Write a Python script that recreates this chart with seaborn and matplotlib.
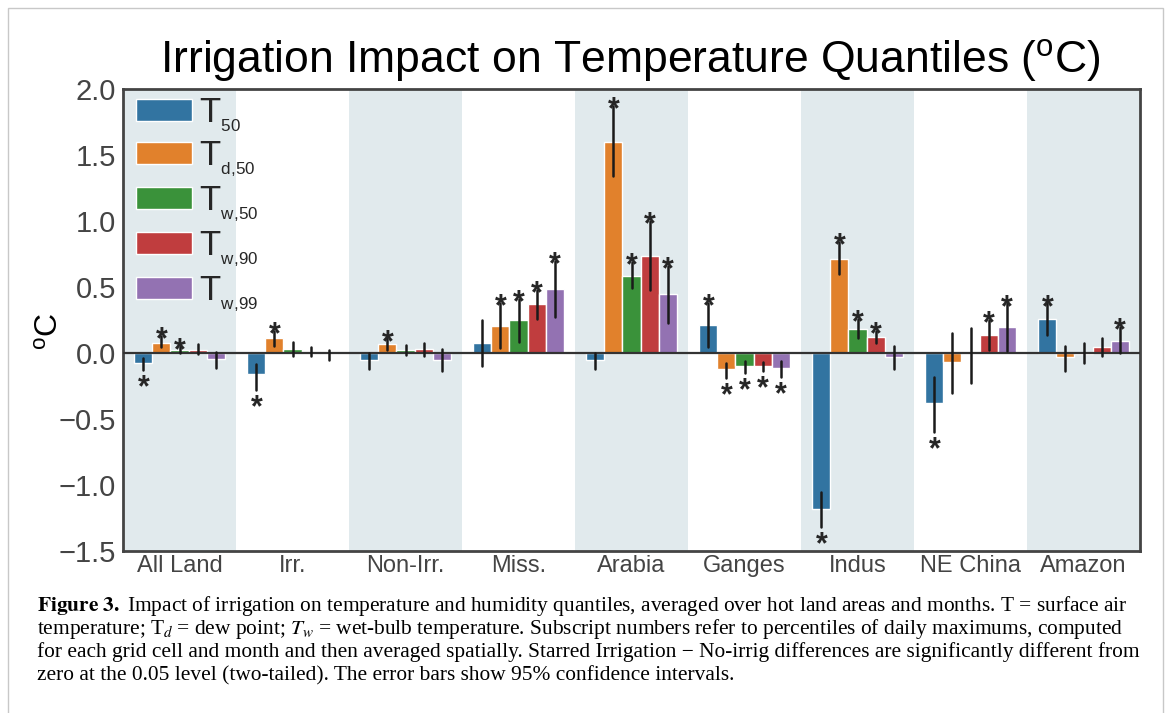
import pandas as pd
import matplotlib
matplotlib.use("Agg")
import matplotlib.pyplot as plt
from matplotlib.patches import Rectangle
import seaborn as sns

# Données
regions = ["All Land", "Irr.", "Non-Irr.", "Miss.", "Arabia", "Ganges", "Indus", "NE China", "Amazon"]
quantiles = ["T$_{_{50}}$", r"T$_{_{d,\!50}}$", r"T$_{_{w,\!50}}$", r"T$_{_{w,\!90}}$", r"T$_{_{w,\!99}}$"]

# Irrigation - No-irrig (°C), une liste par quantile
t50 = [-0.077, -0.160, -0.053, 0.073, -0.053, 0.212, -1.180, -0.376, 0.255]
td50 = [0.078, 0.115, 0.068, 0.207, 1.598, -0.119, 0.712, -0.070, -0.033]
tw50 = [0.022, 0.030, 0.020, 0.248, 0.586, -0.098, 0.182, -0.010, -0.005]
tw90 = [0.025, 0.012, 0.028, 0.369, 0.737, -0.098, 0.121, 0.134, 0.045]
tw99 = [-0.047, -0.005, -0.053, 0.485, 0.445, -0.110, -0.028, 0.195, 0.093]

# intervalles de confiance 95% (bas / haut)
t50_lo = [-0.130, -0.280, -0.120, -0.096, -0.120, 0.048, -1.315, -0.600, 0.136]
t50_hi = [-0.035, -0.080, 0.000, 0.250, 0.000, 0.380, -1.055, -0.180, 0.376]
td50_lo = [0.045, 0.055, 0.020, 0.040, 1.340, -0.190, 0.600, -0.300, -0.134]
td50_hi = [0.130, 0.170, 0.110, 0.380, 1.870, -0.073, 0.840, 0.150, 0.053]
tw50_lo = [0.000, -0.020, -0.015, 0.086, 0.490, -0.150, 0.110, -0.225, -0.073]
tw50_hi = [0.050, 0.080, 0.060, 0.410, 0.690, -0.060, 0.260, 0.190, 0.073]
tw90_lo = [-0.010, -0.020, -0.023, 0.260, 0.477, -0.136, 0.078, 0.025, -0.020]
tw90_hi = [0.065, 0.045, 0.078, 0.480, 1.000, -0.066, 0.170, 0.250, 0.116]
tw99_lo = [-0.110, -0.055, -0.140, 0.275, 0.230, -0.180, -0.120, 0.017, 0.000]
tw99_hi = [0.010, 0.025, 0.028, 0.700, 0.660, -0.060, 0.055, 0.376, 0.200]

# différences significatives (étoiles)
t50_sig = [1, 1, 0, 0, 0, 1, 1, 1, 1]
td50_sig = [1, 1, 1, 1, 1, 1, 1, 0, 0]
tw50_sig = [1, 0, 0, 1, 1, 1, 1, 0, 0]
tw90_sig = [0, 0, 0, 1, 1, 1, 1, 1, 0]
tw99_sig = [0, 0, 0, 1, 1, 1, 0, 1, 1]

yticks = [-1.5, -1.0, -0.5, 0.0, 0.5, 1.0, 1.5, 2.0]

caption_lines = [
    r"$\mathbf{Figure\ 3.}$ Impact of irrigation on temperature and humidity quantiles, averaged over hot land areas and months. T = surface air",
    r"temperature; T$_{\mathit{d}}$ = dew point; $\mathit{T}_{\mathit{w}}$ = wet-bulb temperature. Subscript numbers refer to percentiles of daily maximums, computed",
    "for each grid cell and month and then averaged spatially. Starred Irrigation \u2212 No-irrig differences are significantly different from",
    "zero at the 0.05 level (two-tailed). The error bars show 95% confidence intervals.",
]

values = [t50, td50, tw50, tw90, tw99]
lows = [t50_lo, td50_lo, tw50_lo, tw90_lo, tw99_lo]
highs = [t50_hi, td50_hi, tw50_hi, tw90_hi, tw99_hi]
sigs = [t50_sig, td50_sig, tw50_sig, tw90_sig, tw99_sig]

df = pd.DataFrame({
    "region": regions * len(quantiles),
    "quantile": [q for q in quantiles for _ in regions],
    "value": [v for vals in values for v in vals],
})

# Style
sns.set_style("white")
plt.rcParams["font.family"] = ["Liberation Sans", "DejaVu Sans"]
plt.rcParams["mathtext.fontset"] = "custom"
plt.rcParams["mathtext.rm"] = "Liberation Sans"
plt.rcParams["mathtext.it"] = "Liberation Sans:italic"
plt.rcParams["mathtext.bf"] = "Liberation Sans:bold"
plt.rcParams["mathtext.default"] = "regular"

fig = plt.figure(figsize=(11.68, 7.13), dpi=100)
ax = fig.add_axes([123 / 1168, 1 - 551 / 713, (1140 - 123) / 1168, (551 - 89) / 713])

# bandes grises une région sur deux
for i in range(0, len(regions), 2):
    ax.axvspan(i - 0.5, i + 0.5, color="#e1eaed", lw=0, zorder=0)

sns.barplot(data=df, x="region", y="value", hue="quantile", palette="tab10",
            errorbar=None, edgecolor="white", linewidth=1, ax=ax, zorder=2)

ax.axhline(0, color="#333333", lw=1.6, zorder=3)

# barres d'erreur + étoiles
for j, cont in enumerate(ax.containers):
    for i, bar in enumerate(cont):
        xc = bar.get_x() + bar.get_width() / 2
        ax.plot([xc, xc], [lows[j][i], highs[j][i]], color="#1a1a1a", lw=1.8, zorder=4)
        if sigs[j][i]:
            if values[j][i] > 0:
                ax.annotate("*", (xc, highs[j][i]), xytext=(0, -9), textcoords="offset points",
                            ha="center", va="baseline", fontsize=22, fontweight="bold", zorder=5)
            else:
                ax.annotate("*", (xc, lows[j][i]), xytext=(0, -19), textcoords="offset points",
                            ha="center", va="baseline", fontsize=22, fontweight="bold", zorder=5)

ax.set_xlim(-0.5, len(regions) - 0.5)
ax.set_ylim(-1.5, 2.0)
ax.set_yticks(yticks)
ax.set_xlabel("")
ax.set_ylabel("")
ax.tick_params(axis="y", direction="in", length=6, width=1.5, color="#444444",
               labelsize=21, labelcolor="#444444", pad=5)
ax.tick_params(axis="x", direction="in", length=6, width=1.5, color="#444444",
               labelsize=17, labelcolor="#444444", pad=3)
for s in ax.spines.values():
    s.set_color("#444444")
    s.set_linewidth(2)

handles, labels = ax.get_legend_handles_labels()
ax.legend(handles, labels, loc="upper left", bbox_to_anchor=(0.0128, 0.984),
          frameon=False, fontsize=25, handlelength=1.6, handleheight=0.6,
          handletextpad=0.2, labelspacing=0.15, borderaxespad=0, borderpad=0)

fig.text(630 / 1168, 1 - 73 / 713, "Irrigation Impact on Temperature Quantiles ($^{o}$C)",
         ha="center", va="baseline", fontsize=32, color="black")
fig.text(50 / 1168, 1 - 331 / 713, "$^{o}$C", rotation=90, ha="center", va="center",
         fontsize=23, color="black")

# légende de la figure (texte en serif)
for k, line in enumerate(caption_lines):
    fig.text(37 / 1168, 1 - (611 + 23 * k) / 713, line, ha="left", va="baseline",
             fontsize=15.4, family="Liberation Serif", math_fontfamily="stix", color="black")

fig.patches.append(Rectangle((8 / 1168, -0.05), (1163 - 8) / 1168, 1.05 - 8 / 713,
                             transform=fig.transFigure, fill=False, ec="#c8c8c8", lw=1))

fig.savefig("out.png", dpi=100)
